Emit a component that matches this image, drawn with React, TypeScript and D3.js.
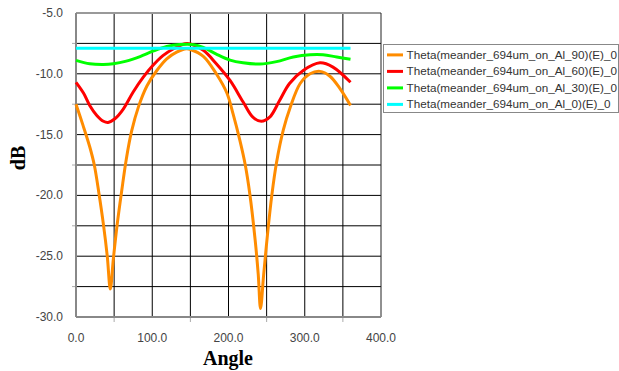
import React from "react";
import * as d3 from "d3";

const xTicks = [0, 100, 200, 300, 400];
const yTicks = [-5, -10, -15, -20, -25, -30];

const seriesNames = [
  "Theta(meander_694um_on_Al_90)(E)_0",
  "Theta(meander_694um_on_Al_60)(E)_0",
  "Theta(meander_694um_on_Al_30)(E)_0",
  "Theta(meander_694um_on_Al_0)(E)_0",
];
const seriesColors = ["#FF8C00", "#FF0000", "#00FF00", "#00FFFF"];

const anglesAl90 = [0, 9, 18, 24, 30, 36, 41, 45, 49, 54, 60, 66, 73, 82, 93, 106, 119, 132, 145, 150, 167, 184, 198, 206, 215, 222, 228, 235, 239, 242, 246, 251, 257, 263, 272, 281, 294, 307, 320, 333, 346, 360];
const valuesAl90 = [-12.5, -14.2, -16.0, -17.5, -19.8, -22.4, -25.0, -27.7, -25.2, -22.4, -19.6, -17.0, -14.7, -12.7, -11.0, -9.73, -8.77, -8.22, -7.94, -8.0, -8.56, -10.0, -11.6, -13.3, -15.5, -17.5, -19.9, -23.7, -26.5, -29.3, -26.6, -23.3, -19.9, -17.3, -14.6, -12.75, -10.8, -10.0, -9.8, -10.2, -11.2, -12.6];

const anglesAl60 = [0, 10, 18, 27, 36, 42, 51, 62, 75, 88, 101, 114, 128, 143, 150, 167, 184, 202, 219, 232, 243, 254, 267, 280, 298, 320, 337, 360];
const valuesAl60 = [-10.7, -11.6, -12.6, -13.4, -13.9, -14.0, -13.7, -12.9, -11.5, -10.3, -9.3, -8.5, -7.94, -7.53, -7.55, -8.07, -9.17, -10.55, -12.3, -13.57, -13.9, -13.57, -12.2, -10.8, -9.73, -9.1, -9.45, -10.7];

const anglesAl30 = [0, 18, 36, 49, 66, 84, 101, 119, 136, 154, 167, 184, 202, 219, 241, 263, 285, 307, 324, 342, 360];
const valuesAl30 = [-8.9, -9.18, -9.24, -9.18, -8.96, -8.58, -8.14, -7.76, -7.6, -7.6, -7.83, -8.38, -8.87, -9.09, -9.2, -9.0, -8.62, -8.43, -8.43, -8.62, -8.8];

const anglesAl0 = [0, 360];
const valuesAl0 = [-7.9, -7.9];

const allAngles = [anglesAl90, anglesAl60, anglesAl30, anglesAl0];
const allValues = [valuesAl90, valuesAl60, valuesAl30, valuesAl0];

export default function App() {
  const x = d3.scaleLinear().domain([0, 400]).range([76, 381]);
  const y = d3.scaleLinear().domain([-30, -5]).range([317, 13]);

  const gridX = d3.range(50, 400, 50);
  const gridY = d3.range(-27.5, -5, 2.5);
  const minorX = [50, 150, 250, 350];
  const minorY = [-7.5, -12.5, -17.5, -22.5, -27.5];

  const line = d3
    .line<[number, number]>()
    .x((d) => x(d[0]))
    .y((d) => y(d[1]))
    .curve(d3.curveCatmullRom.alpha(0.5));

  const font = "'Liberation Sans', Arial, sans-serif";

  return (
    <svg
      width={619}
      height={371}
      style={{ position: "absolute", left: 0, top: 0, background: "#fff" }}
    >
      <rect x={0} y={0} width={619} height={371} fill="#fff" />
      {gridX.map((g) => (
        <line key={"gx" + g} x1={x(g)} x2={x(g)} y1={y(-30)} y2={y(-5)} stroke="#000" strokeWidth={1} />
      ))}
      {gridY.map((g) => (
        <line key={"gy" + g} x1={x(0)} x2={x(400)} y1={y(g)} y2={y(g)} stroke="#000" strokeWidth={1} />
      ))}
      {minorY.map((g) => (
        <line key={"my" + g} x1={x(0) - 4} x2={x(0)} y1={y(g)} y2={y(g)} stroke="#aaa" strokeWidth={1} />
      ))}
      {minorX.map((g) => (
        <line key={"mx" + g} x1={x(g)} x2={x(g)} y1={y(-30)} y2={y(-30) + 5} stroke="#aaa" strokeWidth={1} />
      ))}
      {/* frame */}
      <line x1={x(0)} x2={x(400)} y1={y(-5)} y2={y(-5)} stroke="#999" strokeWidth={2} />
      <line x1={x(400)} x2={x(400)} y1={y(-5)} y2={y(-30)} stroke="#222" strokeWidth={1} />
      <line x1={x(0)} x2={x(400)} y1={y(-30)} y2={y(-30)} stroke="#888" strokeWidth={2} />
      <line x1={x(0)} x2={x(0)} y1={y(-5)} y2={y(-30)} stroke="#888" strokeWidth={2} />

      {allAngles.map((angles, i) => {
        const pts: [number, number][] = angles.map((a, j) => [a, allValues[i][j]]);
        return (
          <path
            key={"s" + i}
            d={line(pts) || ""}
            fill="none"
            stroke={seriesColors[i]}
            strokeWidth={3}
            strokeLinejoin="round"
          />
        );
      })}

      {yTicks.map((t) => (
        <text key={"yt" + t} x={63} y={y(t) + 4} textAnchor="end" fontFamily={font} fontSize={12} fill="#444">
          {t.toFixed(1)}
        </text>
      ))}
      {xTicks.map((t) => (
        <text key={"xt" + t} x={x(t)} y={342} textAnchor="middle" fontFamily={font} fontSize={12} fill="#444">
          {t.toFixed(1)}
        </text>
      ))}

      <text
        x={228}
        y={365}
        textAnchor="middle"
        fontFamily="'Liberation Serif', 'Times New Roman', serif"
        fontWeight="bold"
        fontSize={20}
        fill="#000"
      >
        Angle
      </text>
      <text
        transform="translate(25,158) rotate(-90)"
        textAnchor="middle"
        fontFamily="'Liberation Serif', 'Times New Roman', serif"
        fontWeight="bold"
        fontSize={20}
        fill="#000"
      >
        dB
      </text>

      <rect x={383.5} y={44.5} width={235} height={68} fill="#fff" stroke="#888" strokeWidth={1} />
      {seriesNames.map((name, i) => {
        const by = 58.9 + i * 16.5;
        return (
          <g key={"lg" + i}>
            <line x1={387} x2={403} y1={by - 4} y2={by - 4} stroke={seriesColors[i]} strokeWidth={3} />
            <text x={406.5} y={by} fontFamily={font} fontSize={11.7} fill="#333">
              {name}
            </text>
          </g>
        );
      })}
    </svg>
  );
}
